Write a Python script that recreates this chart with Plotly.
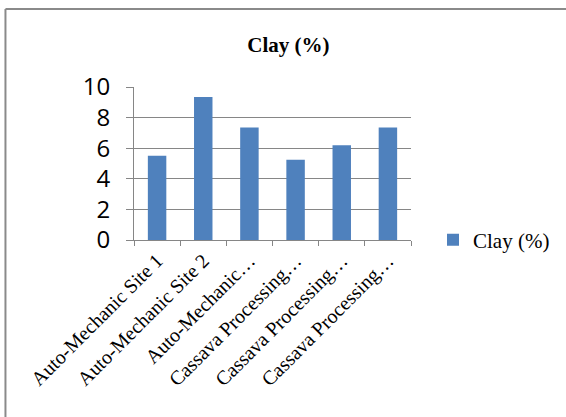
import plotly.graph_objects as go

categories = ["Auto-Mechanic Site 1", "Auto-Mechanic Site 2", "Auto-Mechanic…",
              "Cassava Processing…", "Cassava Processing…", "Cassava Processing…"]
cat_ids = ["c1", "c2", "c3", "c4", "c5", "c6"]
clay = [5.5, 9.35, 7.35, 5.25, 6.2, 7.35]
series_name = "Clay (%)"
title_text = "Clay (%)"

W, H = 566, 417
L, R, T, B = 134, 154, 87, 177
pw, ph = W - L - R, H - T - B

fig = go.Figure()
fig.add_trace(go.Bar(x=cat_ids, y=clay, name=series_name, marker_color="#4f81bd",
                     marker_line_width=0, showlegend=True))

def px_to_paper_x(px):
    return (px - L) / pw

def px_to_paper_y(py):
    return 1 - (py - T) / ph

fig.update_layout(
    width=W, height=H,
    margin=dict(l=L, r=R, t=T, b=B),
    paper_bgcolor="white", plot_bgcolor="white",
    bargap=0.6,
    title=dict(text="<b>" + title_text + "</b>", x=px_to_paper_x(289), xref="paper",
               xanchor="center", y=1 - 45 / H, yanchor="middle",
               font=dict(family="Liberation Serif", size=21, color="black")),
    showlegend=True,
    legend=dict(x=px_to_paper_x(433), y=px_to_paper_y(240), xanchor="left", yanchor="middle",
                font=dict(family="Liberation Serif", size=21, color="black"),
                itemwidth=30, bgcolor="rgba(0,0,0,0)"),
    xaxis=dict(tickmode="array", tickvals=cat_ids, ticktext=categories,
               tickangle=-45, showgrid=False, showline=True, linecolor="#868686",
               linewidth=1, ticks="outside", ticklen=5, tickcolor="#868686",
               tickson="boundaries",
               tickfont=dict(family="Liberation Serif", size=20, color="black")),
    yaxis=dict(range=[0, 10], dtick=2, showgrid=True, gridcolor="#868686", gridwidth=1,
               showline=True, linecolor="#868686", linewidth=1, ticks="outside",
               ticklen=7, tickcolor="#868686", zeroline=False, ticklabelstandoff=11,
               tickfont=dict(family="Open Sans", size=24, color="black")),
    shapes=[
        dict(type="line", xref="paper", yref="paper",
             x0=px_to_paper_x(5), x1=px_to_paper_x(570),
             y0=px_to_paper_y(9), y1=px_to_paper_y(9),
             line=dict(color="#8a8a8a", width=2)),
        dict(type="line", xref="paper", yref="paper",
             x0=px_to_paper_x(5), x1=px_to_paper_x(5),
             y0=px_to_paper_y(9), y1=px_to_paper_y(420),
             line=dict(color="#8a8a8a", width=2)),
    ],
)

fig.write_html("out.html")
